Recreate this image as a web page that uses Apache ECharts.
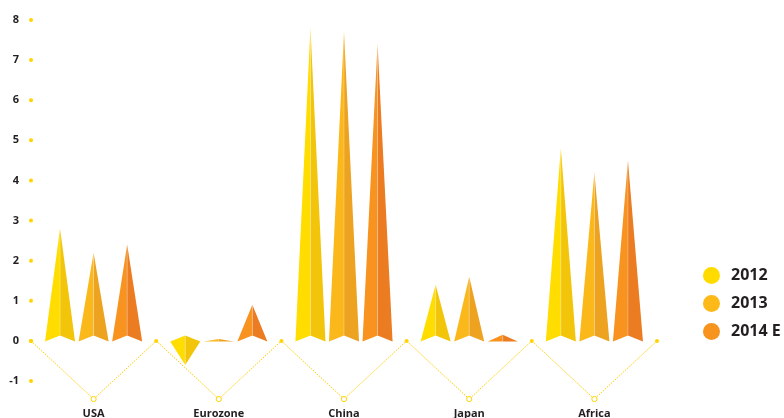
<!DOCTYPE html>
<html>
<head>
<meta charset="utf-8">
<script src="https://cdn.jsdelivr.net/npm/echarts@6/dist/echarts.min.js"></script>
<style>
  html, body { margin: 0; padding: 0; background: #ffffff; }
  #chart { width: 784px; height: 418px; }
</style>
</head>
<body>
<div id="chart"></div>
<script>
// GDP growth by region (%)
const regions = ['USA', 'Eurozone', 'China', 'Japan', 'Africa'];
const years = ['2012', '2013', '2014 E'];
const growth2012 = [2.8, -0.6, 7.8, 1.4, 4.8];
const growth2013 = [2.2, 0.05, 7.7, 1.6, 4.2];
const growth2014 = [2.4, 0.9, 7.4, 0.15, 4.5];
const yTicks = [-1, 0, 1, 2, 3, 4, 5, 6, 7, 8];
const zigzagDepth = -1.45;

const seriesValues = [growth2012, growth2013, growth2014];
const legendColors = ['#FFDB00', '#FDB917', '#F7941E'];
const lightFaces = ['#FFDD00', '#FBB81A', '#F7931E'];
const darkFaces = ['#F2C50A', '#EDA220', '#EB7C21'];
const accent = '#FFD400';
const fontFamily = '"Open Sans", "Liberation Sans", sans-serif';

function arrowSeries(idx) {
  return {
    type: 'custom',
    name: years[idx],
    coordinateSystem: 'cartesian2d',
    itemStyle: { color: legendColors[idx] },
    data: seriesValues[idx].map((v, i) => [i, v]),
    encode: { x: 0, y: 1 },
    renderItem: function (params, api) {
      const ci = api.value(0);
      const v = api.value(1);
      const base = api.coord([ci, 0]);
      const tip = api.coord([ci, v]);
      const band = api.size([1, 0])[0];
      const cx = base[0] + (idx - 1) * band * 0.268;
      const hw = band * 0.12;
      const h = Math.abs(tip[1] - base[1]);
      const notch = h > 12 ? 6 : 0;
      const by = base[1] + 0.5;
      const ty = tip[1];
      return {
        type: 'group',
        children: [
          {
            type: 'polygon',
            shape: { points: [[cx - hw, by], [cx, ty], [cx, by - notch]] },
            style: { fill: lightFaces[idx] }
          },
          {
            type: 'polygon',
            shape: { points: [[cx, ty], [cx + hw, by], [cx, by - notch]] },
            style: { fill: darkFaces[idx] }
          },
          {
            type: 'line',
            shape: { x1: cx, y1: ty, x2: cx, y2: by - notch },
            style: { stroke: 'rgba(255,255,255,0.35)', lineWidth: 0.8 }
          }
        ]
      };
    }
  };
}

// Dots marking each value tick along the left edge
const tickDotSeries = {
  type: 'custom',
  name: 'ticks',
  coordinateSystem: 'cartesian2d',
  silent: true,
  data: yTicks.map(v => [0, v]),
  encode: { x: 0, y: 1 },
  renderItem: function (params, api) {
    const p = api.coord([0, api.value(1)]);
    return {
      type: 'circle',
      shape: { cx: params.coordSys.x, cy: p[1], r: 2 },
      style: { fill: accent }
    };
  }
};

// Dotted zigzag below each region with its node markers
const zigzagSeries = {
  type: 'custom',
  name: 'zigzag',
  coordinateSystem: 'cartesian2d',
  silent: true,
  data: regions.map((r, i) => [i, zigzagDepth]),
  encode: { x: 0, y: 1 },
  renderItem: function (params, api) {
    const ci = api.value(0);
    const zero = api.coord([ci, 0]);
    const low = api.coord([ci, api.value(1)]);
    const band = api.size([1, 0])[0];
    const lx = zero[0] - band / 2;
    const rx = zero[0] + band / 2;
    const children = [
      {
        type: 'polyline',
        shape: { points: [[lx, zero[1]], [low[0], low[1]], [rx, zero[1]]] },
        style: { stroke: '#FFCF00', lineWidth: 1, lineDash: [1.5, 1.2], fill: null }
      },
      {
        type: 'circle',
        shape: { cx: lx, cy: zero[1], r: 2 },
        style: { fill: accent }
      },
      {
        type: 'circle',
        shape: { cx: low[0], cy: low[1], r: 2.6 },
        style: { fill: '#ffffff', stroke: accent, lineWidth: 1 }
      }
    ];
    if (ci === regions.length - 1) {
      children.push({
        type: 'circle',
        shape: { cx: rx, cy: zero[1], r: 2 },
        style: { fill: accent }
      });
    }
    return { type: 'group', children: children };
  }
};

const chart = echarts.init(document.getElementById('chart'), null, { renderer: 'canvas' });
chart.setOption({
  animation: false,
  backgroundColor: '#ffffff',
  textStyle: { fontFamily: fontFamily },
  grid: { left: 31, right: 127, top: 20, bottom: 37, containLabel: false, outerBoundsMode: 'none' },
  legend: {
    data: years,
    orient: 'vertical',
    left: 698,
    top: 262,
    icon: 'circle',
    itemWidth: 17,
    itemHeight: 17,
    itemGap: 11,
    selectedMode: false,
    textStyle: { fontSize: 16, fontWeight: 'bold', color: '#231F20', fontFamily: fontFamily, padding: [0, 0, 0, 6] }
  },
  xAxis: {
    type: 'category',
    data: regions,
    boundaryGap: true,
    axisLine: { show: false },
    axisTick: { show: false },
    splitLine: { show: false },
    axisLabel: { margin: 27, fontSize: 11, fontWeight: 'bold', color: '#231F20', fontFamily: fontFamily }
  },
  yAxis: {
    type: 'value',
    min: -1,
    max: 8,
    interval: 1,
    axisLine: { show: false },
    axisTick: { show: false },
    splitLine: { show: false },
    axisLabel: { margin: 12, fontSize: 11, fontWeight: 'bold', color: '#231F20', fontFamily: fontFamily }
  },
  series: [zigzagSeries, tickDotSeries, arrowSeries(0), arrowSeries(1), arrowSeries(2)]
});
</script>
</body>
</html>
